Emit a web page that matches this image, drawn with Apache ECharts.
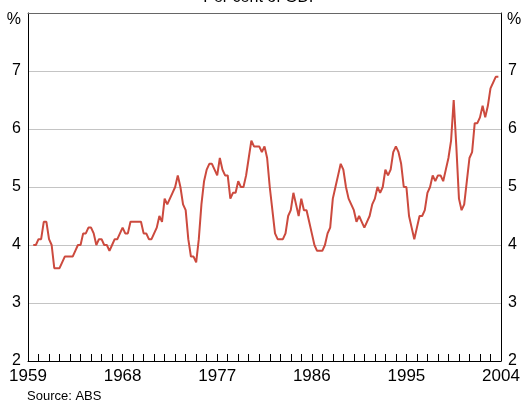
<!DOCTYPE html>
<html><head><meta charset="utf-8">
<script src="https://cdn.jsdelivr.net/npm/echarts@6/dist/echarts.min.js"></script>
<style>html,body{margin:0;padding:0;background:#fff}#c{width:523px;height:404px}</style>
</head><body><div id="c"></div>
<script>
// Quarterly, starting 1959 Q3 (plotted at 1959.5), per cent of GDP
var startYear = 1959.5;
var values = [
4.0,4.0,4.1,4.1,4.4,4.4,4.1,4.0,3.6,3.6,
3.6,3.7,3.8,3.8,3.8,3.8,3.9,4.0,4.0,4.2,
4.2,4.3,4.3,4.2,4.0,4.1,4.1,4.0,4.0,3.9,
4.0,4.1,4.1,4.2,4.3,4.2,4.2,4.4,4.4,4.4,
4.4,4.4,4.2,4.2,4.1,4.1,4.2,4.3,4.5,4.4,
4.8,4.7,4.8,4.9,5.0,5.2,5.0,4.7,4.6,4.1,
3.8,3.8,3.7,4.1,4.7,5.1,5.3,5.4,5.4,5.3,
5.2,5.5,5.3,5.2,5.2,4.8,4.9,4.9,5.1,5.0,
5.0,5.2,5.5,5.8,5.7,5.7,5.7,5.6,5.7,5.5,
5.0,4.6,4.2,4.1,4.1,4.1,4.2,4.5,4.6,4.9,
4.7,4.5,4.8,4.6,4.6,4.4,4.2,4.0,3.9,3.9,
3.9,4.0,4.2,4.3,4.8,5.0,5.2,5.4,5.3,5.0,
4.8,4.7,4.6,4.4,4.5,4.4,4.3,4.4,4.5,4.7,
4.8,5.0,4.9,5.0,5.3,5.2,5.3,5.6,5.7,5.6,
5.4,5.0,5.0,4.5,4.3,4.1,4.3,4.5,4.5,4.6,
4.9,5.0,5.2,5.1,5.2,5.2,5.1,5.3,5.5,5.8,
6.5,5.7,4.8,4.6,4.7,5.1,5.5,5.6,6.1,6.1,
6.2,6.4,6.2,6.4,6.7,6.8,6.9,6.9
];
var xTicks = [1959, 1968, 1977, 1986, 1995, 2004];
var yTicks = [2, 3, 4, 5, 6, 7];
var titleText = 'Per cent of GDP';
var sourceText = 'Source: ABS';

var seriesData = values.map(function (v, i) { return [startYear + i * 0.25, v]; });
var font = 'Arial, "Liberation Sans", sans-serif';
var chart = echarts.init(document.getElementById('c'));

function yAxis(pos) {
  return {
    type: 'value', position: pos, min: 2, max: 8, interval: 1,
    axisLine: {show: true, lineStyle: {color: '#000', width: 1}},
    axisTick: {show: false},
    splitLine: {show: pos === 'left', lineStyle: {color: '#c4c4c4', width: 1}},
    axisLabel: {
      margin: 7, color: '#000', fontSize: 16, fontFamily: font,
      formatter: function (v) { return yTicks.indexOf(v) >= 0 ? String(v) : ''; }
    }
  };
}

chart.setOption({
  animation: false,
  grid: {left: 28, right: 22, top: 13, bottom: 43},
  xAxis: [{
    type: 'value', min: 1959, max: 2004, interval: 9,
    axisLine: {show: true, lineStyle: {color: '#000', width: 1}},
    axisTick: {show: true, inside: true, length: 7, lineStyle: {color: '#000', width: 1}},
    minorTick: {show: true, splitNumber: 9, length: 7, lineStyle: {color: '#000', width: 1}},
    splitLine: {show: false},
    axisLabel: {
      margin: 7, color: '#000', fontSize: 17, fontFamily: font,
      formatter: function (v) { return String(v); }
    }
  }, {
    type: 'value', position: 'top', min: 1959, max: 2004, interval: 9,
    axisLine: {show: true, lineStyle: {color: '#666', width: 1}},
    axisTick: {show: false}, axisLabel: {show: false}, splitLine: {show: false}
  }],
  yAxis: [yAxis('left'), yAxis('right')],
  graphic: [
    {type: 'text', left: 'center', top: -10, style: {text: titleText, fontSize: 16, fontFamily: font, fill: '#000'}},
    {type: 'text', right: 502, top: 12, style: {text: '%', fontSize: 16, fontFamily: font, fill: '#000'}},
    {type: 'text', left: 507, top: 12, style: {text: '%', fontSize: 16, fontFamily: font, fill: '#000'}},
    {type: 'text', left: 27, top: 390, style: {text: sourceText, fontSize: 13, fontFamily: font, fill: '#000'}}
  ],
  series: [{
    type: 'line', data: seriesData, symbol: 'none', xAxisIndex: 0, yAxisIndex: 0,
    lineStyle: {color: '#cc4a3e', width: 2}
  }]
});
</script></body></html>
